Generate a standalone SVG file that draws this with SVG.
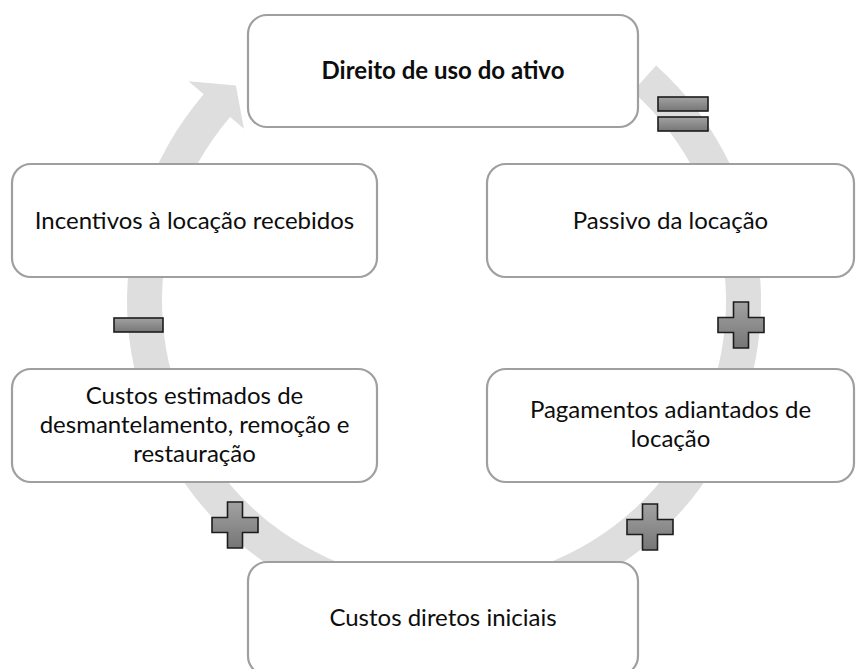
<svg xmlns="http://www.w3.org/2000/svg" xmlns:xlink="http://www.w3.org/1999/xlink" width="863" height="669" viewBox="0 0 863 669">
  <style>
    .box { fill: #ffffff; stroke: #9f9f9f; stroke-width: 2.2; }
    .lbl { font-family: "Lato", "Liberation Sans", sans-serif; font-size: 24px; fill: #0d0d0d; text-anchor: middle; }
    .bold { font-weight: bold; }
    .sym { fill: url(#symGrad); stroke: #1c1c1c; stroke-width: 1.6; }
    .ring { fill: #dedede; stroke: none; }
  </style>
  <defs>
    <linearGradient id="symGrad" x1="0" y1="0" x2="0" y2="1">
      <stop offset="0" stop-color="#a2a2a2"/>
      <stop offset="1" stop-color="#767676"/>
    </linearGradient>
    <path id="plus" d="M-7.5,-23 H7.5 V-7.5 H23 V7.5 H7.5 V23 H-7.5 V7.5 H-23 V-7.5 H-7.5 Z"/>
  </defs>
  <rect width="863" height="669" fill="#ffffff"/>
  <g id="connectors">
    <path class="ring" d="M656.1,65.4 A317,317 0 1 1 203.7,94.3 L188.5,81.2 L235.9,85.6 L243.9,128.8 L230.2,117.1 A282,282 0 1 0 632.7,91.4 Z"/>
  </g>
  <g id="node-direito">
    <rect class="box" x="248" y="15" width="390" height="112" rx="19"/>
    <text class="lbl bold" x="443" y="79">Direito de uso do ativo</text>
  </g>
  <g id="node-passivo">
    <rect class="box" x="487" y="164" width="367" height="113" rx="19"/>
    <text class="lbl" x="670.5" y="229">Passivo da locação</text>
  </g>
  <g id="node-pagamentos">
    <rect class="box" x="487" y="369" width="367" height="113" rx="19"/>
    <text class="lbl" x="670.5" y="418">Pagamentos adiantados de</text>
    <text class="lbl" x="670.5" y="447">locação</text>
  </g>
  <g id="node-custos-diretos">
    <rect class="box" x="248" y="562" width="390" height="113" rx="19"/>
    <text class="lbl" x="443" y="626">Custos diretos iniciais</text>
  </g>
  <g id="node-custos-estimados">
    <rect class="box" x="12" y="369" width="365" height="113" rx="19"/>
    <text class="lbl" x="194.5" y="404">Custos estimados de</text>
    <text class="lbl" x="194.5" y="433">desmantelamento, remoção e</text>
    <text class="lbl" x="194.5" y="462">restauração</text>
  </g>
  <g id="node-incentivos">
    <rect class="box" x="12" y="164" width="365" height="113" rx="19"/>
    <text class="lbl" x="194.5" y="229">Incentivos à locação recebidos</text>
  </g>
  <g id="symbols">
    <rect class="sym" x="658" y="97" width="50" height="14"/>
    <rect class="sym" x="658" y="117" width="50" height="14"/>
    <use xlink:href="#plus" href="#plus" class="sym" x="741" y="325"/>
    <use xlink:href="#plus" href="#plus" class="sym" x="650" y="527"/>
    <use xlink:href="#plus" href="#plus" class="sym" x="235" y="525"/>
    <rect class="sym" x="114" y="318" width="49" height="14"/>
  </g>
</svg>
